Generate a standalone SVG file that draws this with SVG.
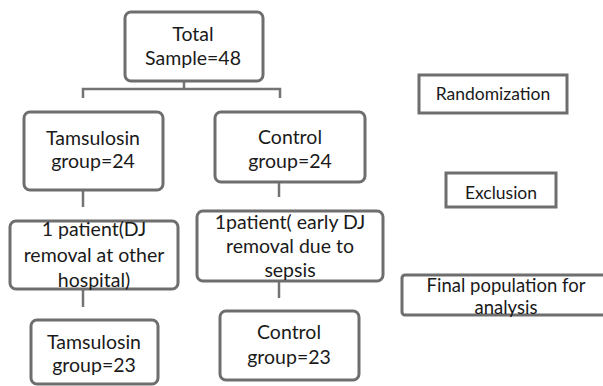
<svg xmlns="http://www.w3.org/2000/svg" width="603" height="386" viewBox="0 0 603 386">
<style>
.box{fill:#fff;stroke:#6e6e6e;stroke-width:3}
.conn{stroke:#747474;stroke-width:2.5;fill:none}
text{font-family:Lato,"Open Sans",sans-serif;font-size:19.5px;fill:#1a1a1a;text-anchor:middle}
.sm{font-size:17.5px}
.md{font-size:18.5px}
</style>
<rect width="603" height="386" fill="#fff"/>
<g id="connectors">
<path class="conn" d="M184 81V89M83 98V89H280V98"/>
<path class="conn" d="M83 190V207M83 289V307"/>
<path class="conn" d="M279 182V197M279 281V298"/>
</g>
<g id="total">
<rect class="box" x="125" y="12" width="138" height="69" rx="6"/>
<text x="193" y="41">Total</text>
<text x="193" y="65">Sample=48</text>
</g>
<g id="tamsulosin24">
<rect class="box" x="24" y="112" width="139" height="78" rx="6"/>
<text x="93" y="145">Tamsulosin</text>
<text x="93" y="168">group=24</text>
</g>
<g id="control24">
<rect class="box" x="215" y="112" width="150" height="70" rx="6"/>
<text x="290" y="144">Control</text>
<text x="290" y="168">group=24</text>
</g>
<g id="excl-left">
<rect class="box" x="10" y="221" width="168" height="68" rx="6"/>
<text x="94" y="236">1 patient(DJ</text>
<text x="94" y="262">removal at other</text>
<text x="94" y="287">hospital)</text>
</g>
<g id="excl-right">
<rect class="box" x="197" y="211" width="186" height="70" rx="6"/>
<text x="290" y="229">1patient( early DJ</text>
<text x="290" y="253">removal due to</text>
<text x="290" y="277">sepsis</text>
</g>
<g id="tamsulosin23">
<rect class="box" x="31" y="320" width="127" height="64" rx="6"/>
<text x="94" y="349">Tamsulosin</text>
<text x="94" y="372">group=23</text>
</g>
<g id="control23">
<rect class="box" x="220" y="311" width="139" height="69" rx="6"/>
<text x="289" y="339">Control</text>
<text x="289" y="364">group=23</text>
</g>
<g id="randomization">
<rect class="box" x="419" y="75" width="148" height="38"/>
<text class="sm" x="493" y="100">Randomization</text>
</g>
<g id="exclusion">
<rect class="box" x="446" y="173" width="110" height="34"/>
<text class="sm" x="501" y="199">Exclusion</text>
</g>
<g id="final">
<rect class="box" x="402" y="275" width="215" height="40" rx="3"/>
<text class="md" x="506" y="292">Final population for</text>
<text class="md" x="506" y="314">analysis</text>
</g>
</svg>
